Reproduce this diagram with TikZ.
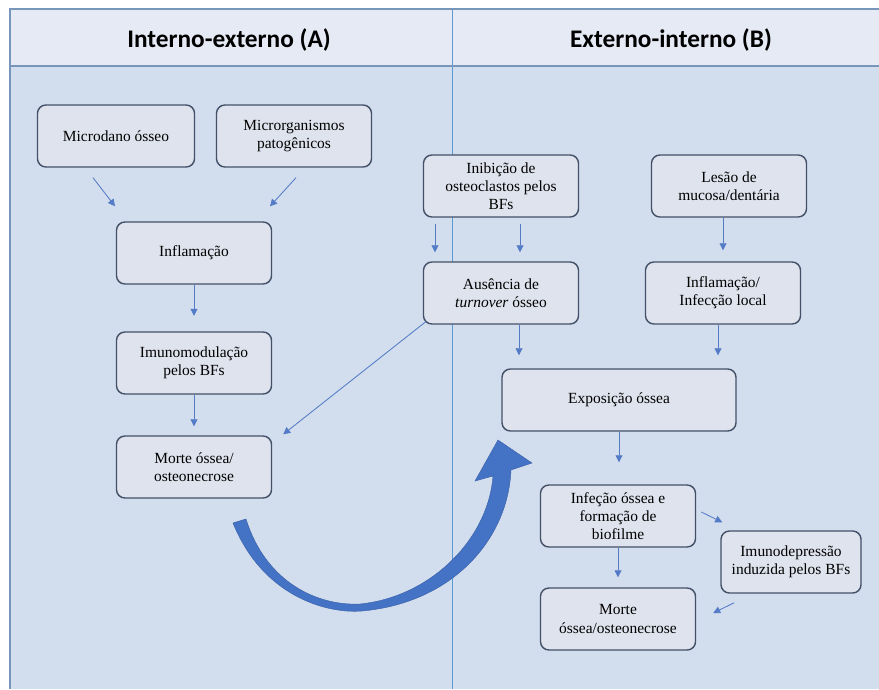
\documentclass[tikz,border=0pt]{standalone}
\usepackage{fontspec}
\setmainfont{Liberation Serif}
\newfontfamily\headfont{Carlito}
\usetikzlibrary{arrows.meta,calc}

\definecolor{panelbg}{RGB}{210,221,238}
\definecolor{headbg}{RGB}{229,234,245}
\definecolor{framecol}{RGB}{120,150,185}
\definecolor{divcol}{RGB}{91,155,213}
\definecolor{boxfill}{RGB}{223,227,237}
\definecolor{boxline}{RGB}{66,80,104}
\definecolor{arrcol}{RGB}{84,124,198}
\definecolor{bigarr}{RGB}{68,114,196}

\begin{document}
\begin{tikzpicture}[
  x=0.025cm, y=-0.025cm,
  cbox/.style={draw=boxline, fill=boxfill, line width=1pt, rounded corners=6pt,
               minimum width=3.875cm, minimum height=1.55cm, inner sep=2pt,
               align=center, font=\fontsize{11}{13}\selectfont},
  hdr/.style={font=\headfont\bfseries\fontsize{18}{21}\selectfont},
  conn/.style={-{Triangle[length=5pt,width=5pt]}, arrcol, line width=0.6pt},
]
\useasboundingbox (0,0) rectangle (879,689);

%%---- Frame and panels ----------------------------------------------
\fill[white] (0,0) rectangle (879,689);
\fill[headbg] (10,9) rectangle (879,66);
\fill[panelbg] (10,66) rectangle (879,689);
\draw[divcol, line width=0.6pt] (452,9) -- (452,689);
\draw[framecol, line width=1.3pt] (879,9) -- (10,9) -- (10,689);
\draw[framecol, line width=1.3pt] (10,66) -- (879,66);

\node[hdr] (hA) at (229,40) {Interno-externo (A)};
\node[hdr] (hB) at (671,40) {Externo-interno (B)};

%%---- Left panel (A) ------------------------------------------------
\node[cbox, minimum width=3.925cm] (microdano) at (116,136) {Microdano ósseo};
\node[cbox] (microrg) at (294,136) {Microrganismos\\patogênicos};
\node[cbox] (inflA) at (194,253) {Inflamação};
\node[cbox] (imuno) at (194,363) {Imunomodulação\\pelos BFs};
\node[cbox] (morteA) at (194,467) {Morte óssea/\\osteonecrose};

\draw[conn] ($(microdano.south)+(-23,10)$) -- ($(inflA.north)+(-79,-15)$);
\draw[conn] ($(microrg.south)+(2,10)$) -- ($(inflA.north)+(76,-15)$);
\draw[conn, shorten >=11pt] (inflA.south) -- (imuno.north);
\draw[conn, shorten >=6.4pt] (imuno.south) -- (morteA.north);

%%---- Right panel (B) -----------------------------------------------
\node[cbox] (inib) at (501,186) {Inibição de\\osteoclastos pelos\\BFs};
\node[cbox] (lesao) at (729,186) {Lesão de\\mucosa/dentária};
\node[cbox] (ausencia) at (501,293) {Ausência de\\\textit{turnover} ósseo};
\node[cbox] (inflB) at (723,293) {Inflamação/\\Infecção local};
\node[cbox, minimum width=5.85cm] (expo) at (619,400) {Exposição óssea};
\node[cbox] (infeccao) at (618,516) {Infeção óssea e\\formação de\\biofilme};
\node[cbox, minimum width=3.5cm] (imunodep) at (791,562) {Imunodepressão\\induzida pelos BFs};
\node[cbox] (morteB) at (618,619) {Morte\\óssea/osteonecrose};

\draw[conn] ($(inib.south)+(-66,6)$) -- ($(ausencia.north)+(-66,-9)$);
\draw[conn] ($(inib.south)+(19,6)$) -- ($(ausencia.north)+(19,-9)$);
\draw[conn] ($(lesao.south)+(-6,0)$) -- ($(inflB.north)+(0,-11)$);
\draw[conn] ($(ausencia.south)+(18,0)$) -- ($(expo.north)+(-100,-13)$);
\draw[conn] ($(inflB.south)+(-5,0)$) -- ($(expo.north)+(99,-13)$);
\draw[conn] (expo.south) -- ($(infeccao.north)+(1,-22)$);
\draw[conn] (infeccao.south) -- ($(morteB.north)+(0,-10)$);
\draw[conn] ($(infeccao.east)+(5,-4)$) -- ($(imunodep.north west)+(2,-8)$);
\draw[conn] ($(imunodep.south west)+(14,9)$) -- ($(morteB.east)+(17,-6)$);

% no turnover feeds back into the left chain
\draw[conn] ($(ausencia.south west)+(3,-3)$) -- ($(morteA.north east)+(11,-1)$);

%%---- Big curved arrow A -> B ---------------------------------------
\filldraw[fill=bigarr, draw=bigarr!85!black, line width=0.3pt]
  (233,523) .. controls (262,595) and (325,614) .. (362,611)
  .. controls (452,603) and (508,540) .. (511,470)
  -- (532,463) -- (498,440) -- (475,481) -- (493,476)
  .. controls (488,540) and (430,597) .. (360,604)
  .. controls (318,606) and (266,583) .. (246,519) -- cycle;

\end{tikzpicture}
\end{document}
